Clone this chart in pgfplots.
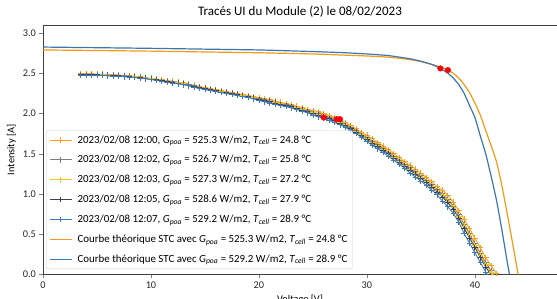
\documentclass[border=0pt]{standalone}
\usepackage{fontspec}
\setmainfont{Carlito}
\usepackage{pgfplots}
\usepackage{pgfplotstable}
\pgfplotsset{compat=1.18}
\definecolor{cOr}{HTML}{FF9F1A}
\definecolor{cGr}{HTML}{7F7F7F}
\definecolor{cYe}{HTML}{F2C80F}
\definecolor{cDk}{HTML}{3F3F5A}
\definecolor{cBl}{HTML}{3D7AB8}
\definecolor{tOr}{HTML}{F59A12}
\definecolor{tBl}{HTML}{3B76B0}
\newcommand{\Gp}{\textit{G}\textsubscript{\textit{poa}}}
\newcommand{\Tc}{\textit{T}\textsubscript{\textit{cell}}}

\pgfplotstableread{
V O G Y D B
3.5 2.493 2.487 2.485 2.483 2.477
4.0 2.493 2.487 2.485 2.483 2.477
4.5 2.492 2.486 2.484 2.482 2.476
5.0 2.491 2.485 2.483 2.481 2.475
5.5 2.488 2.482 2.480 2.478 2.472
6.0 2.485 2.479 2.477 2.475 2.469
6.5 2.482 2.476 2.474 2.472 2.466
7.0 2.478 2.472 2.470 2.468 2.462
7.5 2.473 2.467 2.465 2.463 2.457
8.0 2.468 2.462 2.460 2.458 2.452
8.5 2.463 2.457 2.455 2.453 2.447
9.0 2.458 2.452 2.450 2.448 2.442
9.5 2.448 2.442 2.440 2.438 2.432
10.0 2.438 2.432 2.430 2.428 2.422
10.5 2.428 2.422 2.420 2.418 2.412
11.0 2.418 2.412 2.410 2.408 2.402
11.5 2.408 2.402 2.400 2.398 2.392
12.0 2.402 2.394 2.390 2.386 2.378
12.5 2.392 2.384 2.380 2.376 2.368
13.0 2.382 2.374 2.370 2.366 2.358
13.5 2.367 2.359 2.355 2.351 2.343
14.0 2.352 2.344 2.340 2.336 2.328
14.5 2.337 2.329 2.325 2.321 2.313
15.0 2.322 2.314 2.310 2.306 2.298
15.5 2.309 2.301 2.297 2.293 2.285
16.0 2.297 2.289 2.285 2.281 2.273
16.5 2.284 2.276 2.272 2.268 2.260
17.0 2.272 2.264 2.260 2.256 2.248
17.5 2.260 2.252 2.248 2.244 2.236
18.0 2.247 2.239 2.235 2.231 2.223
18.5 2.234 2.226 2.222 2.218 2.210
19.0 2.222 2.214 2.210 2.206 2.198
19.5 2.207 2.199 2.195 2.191 2.183
20.0 2.200 2.186 2.180 2.174 2.160
20.5 2.185 2.171 2.165 2.159 2.145
21.0 2.170 2.156 2.150 2.144 2.130
21.5 2.155 2.141 2.135 2.129 2.115
22.0 2.140 2.126 2.120 2.114 2.100
22.5 2.125 2.111 2.105 2.099 2.085
23.0 2.110 2.096 2.090 2.084 2.070
23.5 2.090 2.076 2.070 2.064 2.050
24.0 2.070 2.056 2.050 2.044 2.030
24.5 2.050 2.036 2.030 2.024 2.010
25.0 2.040 2.019 2.010 2.001 1.980
25.5 2.020 1.999 1.990 1.981 1.960
26.0 2.000 1.979 1.970 1.961 1.940
26.5 1.975 1.954 1.945 1.936 1.915
27.0 1.950 1.929 1.920 1.911 1.890
27.5 1.920 1.899 1.890 1.881 1.860
28.0 1.890 1.869 1.860 1.851 1.830
28.5 1.850 1.829 1.820 1.811 1.790
29.0 1.810 1.789 1.780 1.771 1.750
29.5 1.765 1.744 1.735 1.726 1.705
30.0 1.730 1.702 1.690 1.678 1.650
30.5 1.685 1.657 1.645 1.633 1.605
31.0 1.640 1.612 1.600 1.588 1.560
31.5 1.595 1.567 1.555 1.543 1.515
32.0 1.550 1.522 1.510 1.498 1.470
32.5 1.500 1.472 1.460 1.448 1.420
33.0 1.450 1.422 1.410 1.398 1.370
33.5 1.400 1.372 1.360 1.348 1.320
34.0 1.360 1.325 1.310 1.295 1.260
34.5 1.310 1.275 1.260 1.245 1.210
35.0 1.260 1.225 1.210 1.195 1.160
35.5 1.205 1.170 1.155 1.140 1.105
36.0 1.150 1.115 1.100 1.085 1.050
36.5 1.090 1.055 1.040 1.025 0.990
37.0 1.050 1.001 0.980 0.959 0.910
37.5 0.980 0.931 0.910 0.889 0.840
38.0 0.900 0.851 0.830 0.809 0.760
38.5 0.790 0.741 0.720 0.699 0.650
39.0 0.690 0.627 0.600 0.573 0.510
39.5 0.570 0.507 0.480 0.453 0.390
40.0 0.450 0.387 0.360 0.333 0.270
40.5 0.330 0.267 0.240 0.213 0.150
41.0 0.210 0.147 0.120 0.093 0.030
41.5 0.110 0.047 0.020 -0.007 -0.070
42.0 0.010 -0.053 -0.080 -0.107 -0.170
}\meas

\pgfplotstableread{
V I
0 2.790
5 2.783
10 2.775
15 2.765
20 2.755
25 2.740
28 2.725
30 2.715
32 2.700
34 2.670
35 2.645
36 2.610
37 2.570
37.5 2.540
38 2.500
38.5 2.440
39 2.360
39.5 2.260
40 2.130
40.5 1.980
41 1.790
41.5 1.600
42 1.400
42.5 1.100
43 0.750
43.5 0.380
44 0.000
}\theoOr

\pgfplotstableread{
V I
0 2.826
5 2.818
10 2.810
15 2.800
20 2.790
25 2.770
28 2.755
30 2.740
32 2.720
34 2.680
35 2.650
36 2.610
36.8 2.560
37.5 2.500
38 2.440
38.5 2.360
39 2.250
39.5 2.100
40 1.950
40.5 1.720
41 1.500
41.5 1.220
42 0.920
42.5 0.550
43 0.150
43.2 0.000
}\theoBl

\begin{document}
\begin{tikzpicture}
\begin{axis}[
  name=ax,
  scale only axis,
  width=514pt, height=249.5pt,
  xmin=0, xmax=47.6, ymin=0, ymax=3.10,
  axis y line*=left,
  xtick pos=bottom, ytick pos=left,
  tick align=outside,
  major tick length=3.5pt,
  xtick={0,10,20,30,40},
  ytick={0,0.5,1,1.5,2,2.5,3},
  yticklabel style={/pgf/number format/.cd,fixed,fixed zerofill,precision=1},
  /pgf/number format/assume math mode=true,
  tick label style={font=\fontsize{10.3}{12}\selectfont, color=black!85},
  axis line style={black!75, line width=0.6pt},
  title={Tracés UI du Module (2) le 08/02/2023},
  title style={font=\fontsize{13}{15}\selectfont, yshift=-2pt},
  xlabel={Voltage [V]},
  ylabel={Intensity [A]},
  label style={font=\fontsize{10.3}{12}\selectfont},
  clip=true,
  legend cell align=left,
  legend style={at={(0.006,0.022)}, anchor=south west,
    draw=black!20, rounded corners=2pt, fill=white, fill opacity=0.8, text opacity=1,
    font=\fontsize{10.9}{12.5}\selectfont, row sep=6.8pt, inner sep=3pt,
    /tikz/every odd column/.append style={column sep=3.5pt}},
  legend image code/.code={\draw[mark repeat=2,mark phase=2] plot coordinates {(0cm,0cm)(0.38cm,0cm)(0.76cm,0cm)};},
]
\addplot[cOr, line width=0.9pt, mark=+, mark size=2.8pt, mark options={solid}] table[x=V,y=O]{\meas};
\addlegendentry{2023/02/08 12:00, \Gp{} = 525.3 W/m2, \Tc{} = 24.8 °C}
\addplot[cGr, line width=0.9pt, mark=+, mark size=2.8pt] table[x=V,y=G]{\meas};
\addlegendentry{2023/02/08 12:02, \Gp{} = 526.7 W/m2, \Tc{} = 25.8 °C}
\addplot[cYe, line width=0.9pt, mark=+, mark size=2.8pt] table[x=V,y=Y]{\meas};
\addlegendentry{2023/02/08 12:03, \Gp{} = 527.3 W/m2, \Tc{} = 27.2 °C}
\addplot[cDk, line width=0.9pt, mark=+, mark size=2.8pt] table[x=V,y=D]{\meas};
\addlegendentry{2023/02/08 12:05, \Gp{} = 528.6 W/m2, \Tc{} = 27.9 °C}
\addplot[cBl, line width=0.9pt, mark=+, mark size=2.8pt] table[x=V,y=B]{\meas};
\addlegendentry{2023/02/08 12:07, \Gp{} = 529.2 W/m2, \Tc{} = 28.9 °C}
\addplot[tOr, line width=1.2pt, smooth, tension=0.3] table[x=V,y=I]{\theoOr};
\addlegendentry{Courbe théorique STC avec \Gp{} = 525.3 W/m2, \Tc{} = 24.8 °C}
\addplot[tBl, line width=1.2pt, smooth, tension=0.3] table[x=V,y=I]{\theoBl};
\addlegendentry{Courbe théorique STC avec \Gp{} = 529.2 W/m2, \Tc{} = 28.9 °C}
\addplot[only marks, mark=*, mark size=2.8pt, color=red, forget plot] coordinates {
(26.0,1.95) (27.2,1.93) (27.5,1.93) (36.8,2.56) (37.5,2.54)};
\end{axis}
\pgfresetboundingbox
\path[use as bounding box] ([xshift=-43pt,yshift=-24.5pt]ax.south west) rectangle ([yshift=25pt]ax.north east);
\end{tikzpicture}
\end{document}
